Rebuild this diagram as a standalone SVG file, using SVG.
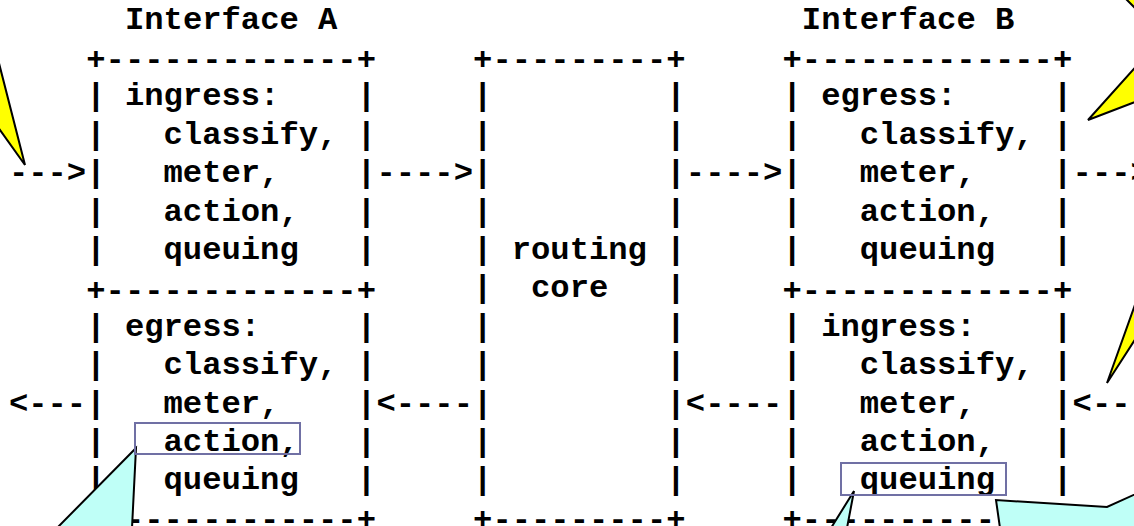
<svg xmlns="http://www.w3.org/2000/svg" width="1134" height="526" viewBox="0 0 1134 526" xml:space="preserve">
  <style>
    text { font-family: "Liberation Mono", "Courier New", monospace; font-weight: bold; font-size: 32.2px; fill: #000; white-space: pre; }
    .callout { stroke: #000; stroke-width: 2; stroke-linejoin: miter; }
    .yellow { fill: #ffff00; }
    .cyan { fill: #bffff7; }
    .mark { fill: none; stroke: #7070a4; stroke-width: 2; }
  </style>
  <rect width="1134" height="526" fill="#fff"/>

  <!-- Interface A: ingress over egress -->
  <g id="interface-a">
    <text x="124.96" y="28.5">Interface A</text>
    <text>
      <tspan x="86.28" y="69.2">+-------------+</tspan>
      <tspan x="86.28" y="105.3">| ingress:    |</tspan>
      <tspan x="86.28" y="143.7">|   classify, |</tspan>
      <tspan x="86.28" y="182.1">|   meter,    |</tspan>
      <tspan x="86.28" y="220.5">|   action,   |</tspan>
      <tspan x="86.28" y="258.9">|   queuing   |</tspan>
      <tspan x="86.28" y="299.6">+-------------+</tspan>
      <tspan x="86.28" y="335.7">| egress:     |</tspan>
      <tspan x="86.28" y="374.1">|   classify, |</tspan>
      <tspan x="86.28" y="412.5">|   meter,    |</tspan>
      <tspan x="86.28" y="450.9">|   action,   |</tspan>
      <tspan x="86.28" y="489.3">|   queuing   |</tspan>
      <tspan x="86.28" y="528.8">+-------------+</tspan>
    </text>
  </g>

  <!-- Routing core -->
  <g id="routing-core">
    <text>
      <tspan x="473.08" y="69.2">+---------+</tspan>
      <tspan x="473.08" y="105.3">|         |</tspan>
      <tspan x="473.08" y="143.7">|         |</tspan>
      <tspan x="473.08" y="182.1">|         |</tspan>
      <tspan x="473.08" y="220.5">|         |</tspan>
      <tspan x="473.08" y="258.9">| routing |</tspan>
      <tspan x="473.08" y="297.3">|  core   |</tspan>
      <tspan x="473.08" y="335.7">|         |</tspan>
      <tspan x="473.08" y="374.1">|         |</tspan>
      <tspan x="473.08" y="412.5">|         |</tspan>
      <tspan x="473.08" y="450.9">|         |</tspan>
      <tspan x="473.08" y="489.3">|         |</tspan>
      <tspan x="473.08" y="528.8">+---------+</tspan>
    </text>
  </g>

  <!-- Interface B: egress over ingress -->
  <g id="interface-b">
    <text x="801.86" y="28.5">Interface B</text>
    <text>
      <tspan x="782.52" y="69.2">+-------------+</tspan>
      <tspan x="782.52" y="105.3">| egress:     |</tspan>
      <tspan x="782.52" y="143.7">|   classify, |</tspan>
      <tspan x="782.52" y="182.1">|   meter,    |</tspan>
      <tspan x="782.52" y="220.5">|   action,   |</tspan>
      <tspan x="782.52" y="258.9">|   queuing   |</tspan>
      <tspan x="782.52" y="299.6">+-------------+</tspan>
      <tspan x="782.52" y="335.7">| ingress:    |</tspan>
      <tspan x="782.52" y="374.1">|   classify, |</tspan>
      <tspan x="782.52" y="412.5">|   meter,    |</tspan>
      <tspan x="782.52" y="450.9">|   action,   |</tspan>
      <tspan x="782.52" y="489.3">|   queuing   |</tspan>
      <tspan x="782.52" y="528.8">+-------------+</tspan>
    </text>
  </g>

  <!-- Traffic arrows between the blocks -->
  <g id="connectors">
    <text x="8.92" y="182.1">---&gt;</text>
    <text x="376.38" y="182.1">----&gt;</text>
    <text x="685.82" y="182.1">----&gt;</text>
    <text x="1072.62" y="182.1">---&gt;</text>
    <text x="8.92" y="412.5">&lt;---</text>
    <text x="376.38" y="412.5">&lt;----</text>
    <text x="685.82" y="412.5">&lt;----</text>
    <text x="1072.62" y="412.5">&lt;---</text>
  </g>

  <!-- Callout pointers -->
  <g id="callouts">
    <polygon class="callout yellow" points="25,165 -10,116 -10,28"/>
    <polygon class="callout yellow" points="1088,120 1140,62 1140,100"/>
    <polygon class="callout yellow" points="1126,-1 1140,13 1140,-1"/>
    <polygon class="callout yellow" points="1107,383 1136,302 1136,338"/>
    <polygon class="callout cyan" points="136,448 57,528 132,528"/>
    <polygon class="callout cyan" points="854,491 831,528 847,528"/>
    <polygon class="callout cyan" points="1000,528 996,500 1107,507 1140,492 1140,528"/>
  </g>

  <!-- Highlight boxes -->
  <g id="highlights">
    <rect class="mark" x="135" y="423" width="165" height="31"/>
    <rect class="mark" x="841" y="463" width="165" height="32"/>
  </g>
</svg>
